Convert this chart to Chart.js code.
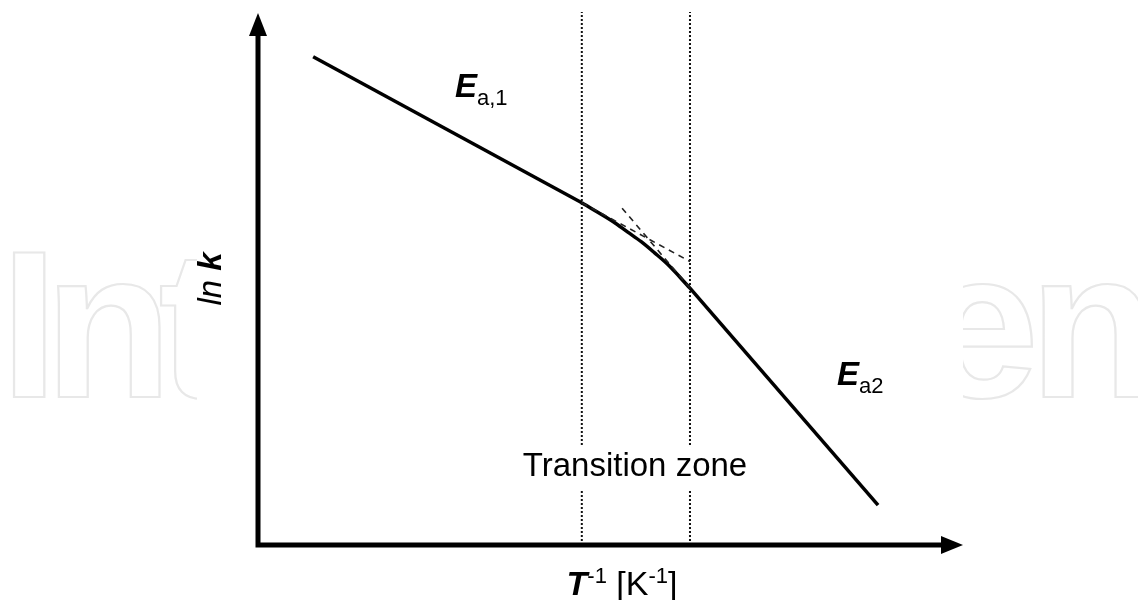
<!DOCTYPE html>
<html>
<head>
<meta charset="utf-8">
<script src="https://cdn.jsdelivr.net/npm/chart.js@4/dist/chart.umd.min.js"></script>
<style>
    html, body { margin: 0; padding: 0; background: #fff; }
    #box { width: 1138px; height: 600px; }
</style>
</head>
<body>
<div id="box"><canvas id="rate-chart" width="1138" height="600"></canvas></div>
<script>
// Arrhenius plot, arbitrary units (x = 1/T, y = ln k)
const ea1X = [7.8, 45.8];
const ea1Y = [91.6, 64.2];
const bendX = [45.8, 50.2, 52.3, 54.2, 56.1, 57.9, 61.1];
const bendY = [64.2, 60.7, 58.7, 56.9, 54.8, 52.7, 48.2];
const ea2X = [61.1, 87.7];
const ea2Y = [48.2, 7.5];
// tangents of both straight parts carried into the zone
const tan1X = [45.8, 61.1];
const tan1Y = [64.2, 53.2];
const tan2X = [51.5, 61.1];
const tan2Y = [63.2, 48.2];
// borders of the transition zone
const zoneX = [45.8, 61.1];
const zoneY = [0, 100];

const FONT = "'Liberation Sans', Arial, sans-serif";

function pts(xs, ys) {
    return xs.map((x, i) => ({ x: x, y: ys[i] }));
}

function solid(xs, ys, extra) {
    return Object.assign({
        data: pts(xs, ys),
        showLine: true,
        borderColor: '#000',
        borderWidth: 3.5,
        pointRadius: 0,
        fill: false
    }, extra || {});
}

const dotted = { borderWidth: 2, borderColor: '#111', borderDash: [2, 2] };
const dashed = { borderWidth: 1.6, borderColor: '#222', borderDash: [6, 5] };

let datasets = [
    solid([zoneX[0], zoneX[0]], zoneY, dotted),
    solid([zoneX[1], zoneX[1]], zoneY, dotted),
    solid(tan1X, tan1Y, dashed),
    solid(tan2X, tan2Y, dashed),
    solid(ea1X, ea1Y),
    solid(bendX, bendY, { cubicInterpolationMode: 'monotone' }),
    solid(ea2X, ea2Y)
];

// write a run of [text, font, dy] pieces one after another
function runText(ctx, x, y, parts) {
    let cx = x;
    for (const p of parts) {
        ctx.font = p[1];
        ctx.fillText(p[0], cx, y + (p[2] || 0));
        cx += ctx.measureText(p[0]).width;
    }
    return cx - x;
}

function runWidth(ctx, parts) {
    let w = 0;
    for (const p of parts) {
        ctx.font = p[1];
        w += ctx.measureText(p[0]).width;
    }
    return w;
}

const decorations = {
    id: 'decorations',
    beforeDraw(chart) {
        const ctx = chart.ctx;
        ctx.save();
        ctx.fillStyle = '#fff';
        ctx.fillRect(0, 0, chart.width, chart.height);
        // publisher mark in outline behind the plot
        ctx.font = 'bold 210px ' + FONT;
        ctx.letterSpacing = '-14px';
        ctx.strokeStyle = '#e8e8e8';
        ctx.lineWidth = 2.2;
        ctx.textBaseline = 'alphabetic';
        ctx.strokeText('Int', 0, 397);
        ctx.letterSpacing = '-10px';
        const head = ctx.measureText('echOpe').width;
        ctx.strokeText('echOpen', 1029 - head, 397);
        ctx.letterSpacing = '0px';
        ctx.fillStyle = '#fff';
        ctx.fillRect(197, 0, 766, chart.height);
        ctx.restore();
    },
    afterDatasetsDraw(chart) {
        const ctx = chart.ctx;
        const x = chart.scales.x, y = chart.scales.y;
        const left = x.getPixelForValue(0);
        const bottom = y.getPixelForValue(0);
        ctx.save();
        ctx.fillStyle = '#000';
        ctx.strokeStyle = '#000';

        // axes with arrow heads
        ctx.lineWidth = 5;
        ctx.beginPath();
        ctx.moveTo(left, bottom + 2.5);
        ctx.lineTo(left, 30);
        ctx.moveTo(left - 2.5, bottom);
        ctx.lineTo(945, bottom);
        ctx.stroke();
        ctx.beginPath();
        ctx.moveTo(left, 13);
        ctx.lineTo(left - 9, 36);
        ctx.lineTo(left + 9, 36);
        ctx.closePath();
        ctx.fill();
        ctx.beginPath();
        ctx.moveTo(963, bottom);
        ctx.lineTo(941, bottom - 9);
        ctx.lineTo(941, bottom + 9);
        ctx.closePath();
        ctx.fill();

        ctx.textBaseline = 'alphabetic';
        ctx.textAlign = 'left';

        // activation energy labels
        runText(ctx, 455, 97, [
            ['E', 'italic bold 33px ' + FONT],
            ['a,1', '22px ' + FONT, 8]
        ]);
        runText(ctx, 837, 385, [
            ['E', 'italic bold 33px ' + FONT],
            ['a2', '22px ' + FONT, 8]
        ]);

        // zone caption on a white patch that breaks the dotted lines
        ctx.font = '33px ' + FONT;
        const cap = 'Transition zone';
        const cw = ctx.measureText(cap).width;
        ctx.fillStyle = '#fff';
        ctx.fillRect(635 - cw / 2 - 4, 446, cw + 8, 44);
        ctx.fillStyle = '#000';
        ctx.textAlign = 'center';
        ctx.fillText(cap, 635, 476);
        ctx.textAlign = 'left';

        // x axis title: T^-1 [K^-1]
        const xt = [
            ['T', 'italic bold 34px ' + FONT],
            ['-1', '22px ' + FONT, -12],
            [' [K', '34px ' + FONT],
            ['-1', '22px ' + FONT, -12],
            [']', '34px ' + FONT]
        ];
        runText(ctx, 622 - runWidth(ctx, xt) / 2, 595, xt);

        // y axis title: ln k
        const yt = [
            ['ln ', 'italic 33px ' + FONT],
            ['k', 'italic bold 33px ' + FONT]
        ];
        ctx.translate(221, 279);
        ctx.rotate(-Math.PI / 2);
        runText(ctx, -runWidth(ctx, yt) / 2, 0, yt);
        ctx.restore();
    }
};

const ctx = document.getElementById('rate-chart').getContext('2d');
const rateChart = new Chart(ctx, {
    type: 'scatter',
    data: { datasets: datasets },
    options: {
        responsive: false,
        animation: false,
        layout: { padding: { left: 258, right: 173, top: 12, bottom: 55 } },
        scales: {
            x: { type: 'linear', min: 0, max: 100, display: false },
            y: { type: 'linear', min: 0, max: 100, display: false }
        },
        plugins: {
            legend: { display: false },
            tooltip: { enabled: false }
        }
    },
    plugins: [decorations]
});
</script>
</body>
</html>
